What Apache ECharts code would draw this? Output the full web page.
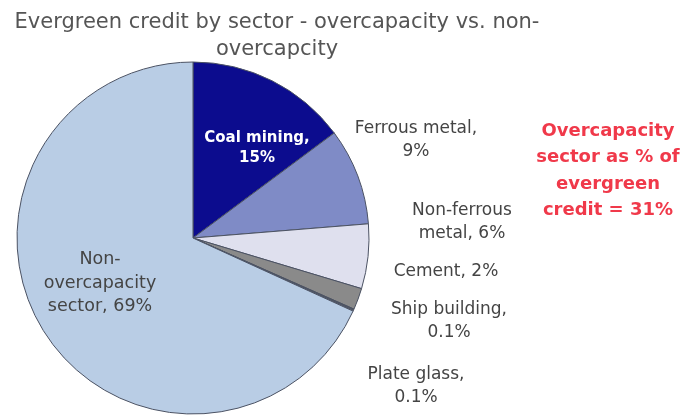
<!DOCTYPE html>
<html>
<head>
<meta charset="utf-8">
<script src="https://cdn.jsdelivr.net/npm/echarts@6/dist/echarts.min.js"></script>
<style>html,body{margin:0;padding:0;background:#fff;}#c{width:692px;height:417px;}</style>
</head>
<body>
<div id="c"></div>
<script>
const titleText = 'Evergreen credit by sector - overcapacity vs. non-\novercapcity';
const categories = ['Coal mining', 'Ferrous metal', 'Non-ferrous\nmetal', 'Cement', 'Ship building', 'Plate glass', 'Non-\novercapacity\nsector'];
const values = [15, 9, 6, 2, 0.1, 0.1, 69];
const valueLabels = ['15%', '9%', '6%', '2%', '0.1%', '0.1%', '69%'];
const noteText = 'Overcapacity\nsector as % of\nevergreen\ncredit = 31%';

const colors = ['#0c0c8e', '#7f8bc6', '#dfe0ee', '#8a8a8a', '#5a5a5a', '#6a6a6a', '#b9cde5'];
const labelFmt = [
  (n, v) => n + ',\n' + v,
  (n, v) => n + ',\n' + v,
  (n, v) => n + ', ' + v,
  (n, v) => n + ', ' + v,
  (n, v) => n + ',\n' + v,
  (n, v) => n + ',\n' + v,
  (n, v) => n + ', ' + v
];
const labelPos = [
  [257, 148], [416, 140], [462, 222], [446, 272], [449, 321], [416, 386], [100, 283]
];

const chart = echarts.init(document.getElementById('c'));
chart.setOption({
  animation: false,
  title: {
    text: titleText,
    left: 272, top: 4, textAlign: 'center',
    textStyle: { fontFamily: 'DejaVu Sans, sans-serif', fontSize: 21, fontWeight: 'normal', color: '#555', lineHeight: 27 }
  },
  graphic: [{
    type: 'text',
    x: 608, y: 118,
    style: {
      text: noteText, align: 'center',
      font: 'bold 18px "DejaVu Sans", sans-serif',
      fill: '#f0394a', lineHeight: 26.5
    }
  }],
  series: [{
    type: 'pie',
    center: [193, 238],
    radius: 176,
    startAngle: 90,
    clockwise: true,
    avoidLabelOverlap: false,
    minAngle: 0,
    itemStyle: { borderColor: '#4b5263', borderWidth: 1 },
    labelLine: { show: false },
    data: categories.map((c, i) => ({
      name: c,
      value: values[i],
      itemStyle: { color: colors[i] },
      label: {
        show: true,
        formatter: labelFmt[i](c, valueLabels[i]),
        color: i === 0 ? '#ffffff' : '#444',
        fontWeight: i === 0 ? 'bold' : 'normal',
        fontSize: i === 0 ? 15 : (i === 6 ? 17.5 : 17),
        lineHeight: i === 0 ? 20 : (i === 6 ? 23.5 : 23),
        align: 'center',
        fontFamily: 'DejaVu Sans, sans-serif'
      }
    })),
    label: { position: 'outside' },
    labelLayout: function (p) {
      const pos = labelPos[p.dataIndex];
      return { x: pos[0], y: pos[1], align: 'center', verticalAlign: 'middle', hideOverlap: false, moveOverlap: false };
    }
  }]
});
</script>
</body>
</html>
